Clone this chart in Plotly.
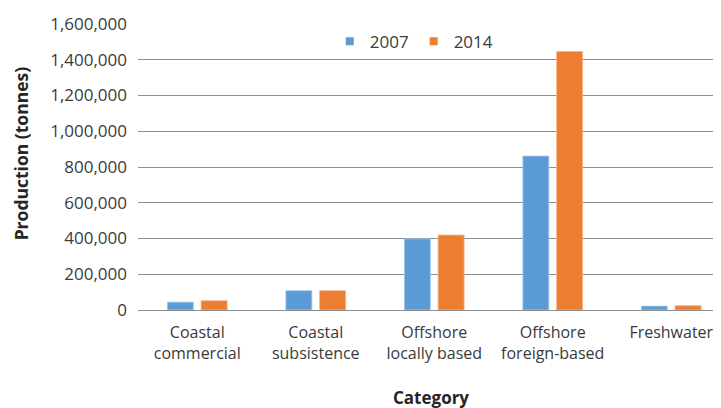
import plotly.graph_objects as go

categories = ["Coastal<br>commercial", "Coastal<br>subsistence", "Offshore<br>locally based",
              "Offshore<br>foreign-based", "Freshwater"]
series_names = ["2007", "2014"]
values_2007 = [44000, 108000, 398000, 861000, 22000]
values_2014 = [52000, 108000, 419000, 1446000, 24000]
y_ticks = [0, 200000, 400000, 600000, 800000, 1000000, 1200000, 1400000, 1600000]

colors = ["#5B9BD5", "#ED7D31"]
edge = ["#A9C9EA", "#F5B58A"]
FONT = "Open Sans"
OFF = 8  # page body margin
W, H = 721 - OFF, 408 - OFF
L, R, T = 137.5 - OFF, 0, 24 - OFF
B = H - (310.5 - OFF)
pw = W - L - R
ph = H - T - B
unit = 118.6


def px(xw):
    return (xw - OFF - L) / pw


def py(yw):
    return (H - B - (yw - OFF)) / ph


fig = go.Figure()
for name, vals, c, e in zip(series_names, [values_2007, values_2014], colors, edge):
    fig.add_trace(go.Bar(x=categories, y=vals, name=name, marker=dict(color=c, line=dict(color=e, width=0.8)),
                         showlegend=False))
    fig.add_trace(go.Scatter(x=[None], y=[None], mode="markers", name=name,
                             marker=dict(symbol="square", size=8, color=c)))

fig.update_layout(
    width=W, height=H,
    margin=dict(l=L, r=R, t=T, b=B, pad=0),
    paper_bgcolor="white", plot_bgcolor="white",
    barmode="group", bargap=0.43, bargroupgap=0.23,
    font=dict(family=FONT, size=17, color="#3a3a3a"),
    legend=dict(orientation="h", x=px(414), xanchor="center", y=py(41.7), yanchor="middle",
                font=dict(size=17, color="#3a3a3a"), bgcolor="rgba(0,0,0,0)", itemwidth=30,
                tracegroupgap=0),
    xaxis=dict(range=[-0.5, -0.5 + pw / unit], showgrid=False, showline=True, linecolor="#8E8E8E", linewidth=1.2,
               ticks="", ticklabelstandoff=8, tickfont=dict(size=16, color="#3a3a3a"), fixedrange=True),
    yaxis=dict(range=[0, 1600000], tickvals=y_ticks, tickformat=",d", showgrid=True, gridcolor="#8E8E8E",
               gridwidth=1.2, zeroline=False, showline=False, ticks="", ticklabelstandoff=10,
               tickfont=dict(size=17, color="#3a3a3a")),
    annotations=[
        dict(text="<b>Category</b>", xref="paper", yref="paper", x=px(431), y=py(398),
             showarrow=False, xanchor="center", yanchor="middle", font=dict(size=17, color="#262626")),
        dict(text="<b>Production (tonnes)</b>", xref="paper", yref="paper", x=px(20), y=py(154),
             showarrow=False, xanchor="center", yanchor="middle", textangle=-90,
             font=dict(size=17.5, color="#262626")),
    ],
)

fig.write_html("out.html")
